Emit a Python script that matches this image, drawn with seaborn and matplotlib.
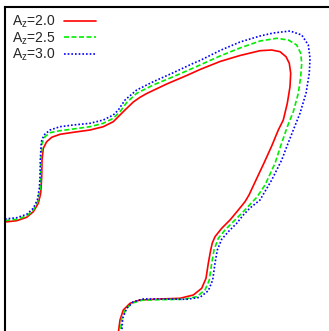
import matplotlib
matplotlib.use("Agg")
import matplotlib.pyplot as plt
import seaborn as sns
import pandas as pd

labels = ["A$_{\\mathrm{z}}$=2.0", "A$_{\\mathrm{z}}$=2.5", "A$_{\\mathrm{z}}$=3.0"]
colors = ["#ff0000", "#00ee00", "#0000ff"]

# curves traced in picture units (x to the right, y downward)
x_a2 = [5, 16.7, 26.7, 33.3, 38.3, 40.7, 41.7, 42, 43.3, 46.7, 51.7, 60, 73.3, 90, 103.3, 113.3, 119, 125, 133.3, 140,
        146.7, 166.7, 186.7, 200, 220, 240, 260, 271.7, 280, 286, 289.3, 290.7, 290, 287.3, 283.3, 278.3, 271.7, 264,
        256, 249, 245, 238.3, 230, 221.7, 215, 212.3, 210.7, 208.3, 206, 201.7, 193.3, 180, 160, 140, 130, 123.3, 120,
        118.3]
y_a2 = [222, 220.7, 217.3, 211.7, 203.3, 193.3, 176.7, 160, 148.3, 141.7, 137.3, 134.3, 132.3, 130, 126.7, 121.7, 116,
        110, 102, 97.3, 93.5, 84, 75.5, 69.5, 61.5, 55.5, 50.7, 50, 51.7, 56.7, 63.3, 73.3, 86.7, 103.3, 120, 130, 146,
        163, 180, 195, 201.7, 210, 220, 228.3, 236.7, 243, 250, 263.3, 278.3, 288.3, 295, 298.3, 299, 300, 303.3, 310,
        320, 333]

x_a25 = [5, 16.7, 26.7, 33.3, 37.7, 40, 40.7, 41, 42, 45, 50, 60, 73.3, 90, 103.3, 113.3, 120, 126.7, 136.7, 153.3,
         173.3, 193.3, 200, 220, 240, 260, 276.7, 288.3, 296.7, 300.7, 301.7, 300.7, 298.3, 293.3, 287.3, 281, 275, 265,
         257, 250, 243, 233.3, 225, 218.3, 214, 211.7, 209.3, 205, 196.7, 183.3, 160, 141.7, 131.7, 125.7, 121.7, 120.5]
y_a25 = [220.5, 219.3, 216, 210, 201.7, 190, 176.7, 160, 143.3, 136.7, 132.7, 130.7, 129, 126.7, 123.3, 118.3, 111.7,
         102.5, 93.3, 85, 76.7, 68, 65, 56, 48, 41, 38.3, 40, 45, 53.3, 63.3, 76.7, 93.3, 111.7, 126.7, 145, 163.3, 185,
         197, 204.5, 212, 221.7, 230, 238.3, 250, 263.3, 280, 290, 296.7, 299.3, 299.7, 300.3, 303.3, 309.3, 318.3, 333]

x_a3 = [5, 16.7, 26.7, 33.3, 37.3, 39.3, 40, 40.3, 41.3, 44, 50, 60, 73.3, 90, 103.3, 113.3, 118.3, 125, 136.7, 153.3,
        173.3, 193.3, 200, 220, 240, 260, 273.3, 290, 301.7, 308.3, 310, 309.3, 306, 300, 293.3, 287, 281.7, 271.7, 260,
        250, 243.3, 236.7, 228.3, 221.7, 217.3, 215, 212.7, 208.3, 200, 186.7, 160, 143.3, 133.3, 126.7, 122.7, 121.7]
y_a3 = [219, 217.7, 214.3, 208.3, 200, 188.3, 176.7, 160, 141.7, 135, 130, 126.7, 125, 123.3, 120, 115, 110, 100, 90,
        81.7, 72.7, 63.3, 60.5, 50.5, 42, 36, 33, 31, 35, 45, 58.3, 73.3, 93.3, 113.3, 130, 146, 160, 180, 200, 208,
        215, 223.3, 231.7, 239.3, 250, 263.3, 280, 290.7, 297.3, 299.3, 299, 299, 301.7, 308.3, 318.3, 333]

sns.set_style("white")
plt.rcParams["font.family"] = ["Liberation Sans", "DejaVu Sans"]
plt.rcParams["mathtext.fontset"] = "custom"
plt.rcParams["mathtext.rm"] = "Liberation Sans"
plt.rcParams["mathtext.it"] = "Liberation Sans:italic"

fig = plt.figure(figsize=(3.29, 3.31), dpi=100)
ax = fig.add_axes([5 / 329, 0, 324 / 329, 324 / 331])

series = [(x_a2, y_a2, "-"), (x_a25, y_a25, (0, (3, 1.5))), (x_a3, y_a3, (0, (1, 1.2)))]
for (xs, ys, ls), lab, col in zip(series, labels, colors):
    df = pd.DataFrame({"x": xs, "y": ys})
    sns.lineplot(data=df, x="x", y="y", sort=False, estimator=None, ax=ax,
                 color=col, linestyle=ls, linewidth=1.2, label=lab)
for ln in ax.get_lines():
    ln.set_solid_joinstyle("round")
    ln.set_dash_joinstyle("round")

ax.set_xlim(5, 329)
ax.set_ylim(331, 7)
ax.set_xticks([])
ax.set_yticks([])
ax.set_xlabel("")
ax.set_ylabel("")
for side in ["right", "bottom"]:
    ax.spines[side].set_visible(False)
for side in ["left", "top"]:
    ax.spines[side].set_color("black")
    ax.spines[side].set_linewidth(1.5)

ax.legend(loc="upper left", frameon=False, markerfirst=False, fontsize=10,
          handlelength=2.3, labelspacing=0.0, borderaxespad=0.35, borderpad=0.15,
          handletextpad=0.6)

fig.savefig("out.png", dpi=100)
